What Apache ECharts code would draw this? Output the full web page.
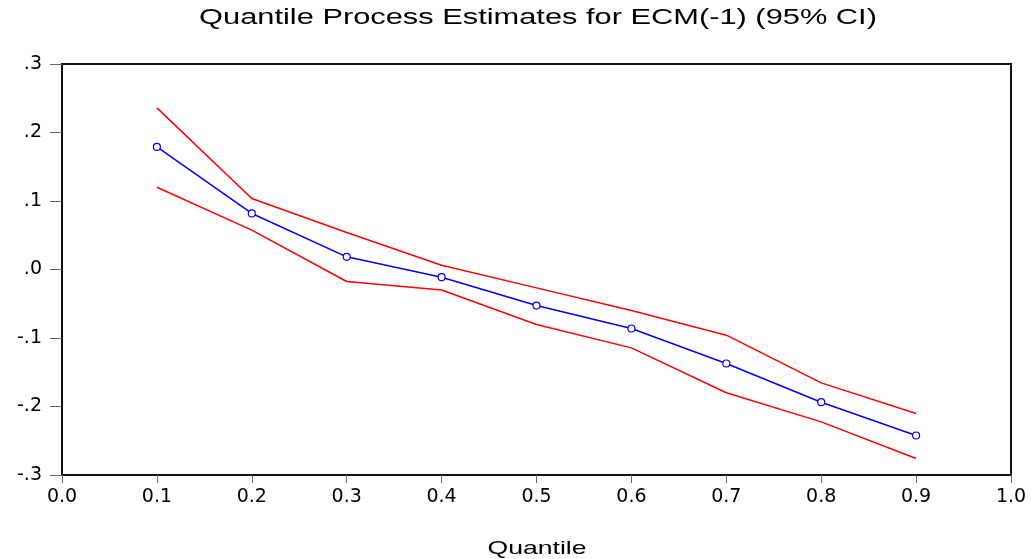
<!DOCTYPE html>
<html><head><meta charset="utf-8">
<script src="https://cdn.jsdelivr.net/npm/echarts@6/dist/echarts.min.js"></script>
<style>html,body{margin:0;padding:0;background:#fff}#c{width:1031px;height:559px}</style>
</head><body><div id="c"></div>
<script>
const quantiles = [0.1, 0.2, 0.3, 0.4, 0.5, 0.6, 0.7, 0.8, 0.9];
const estimate = [0.179, 0.0818, 0.0185, -0.0112, -0.0526, -0.0861, -0.1372, -0.1937, -0.2423];
const upperCI = [0.236, 0.1036, 0.054, 0.0063, -0.0268, -0.0599, -0.0959, -0.1655, -0.2102];
const lowerCI = [0.120, 0.0574, -0.0175, -0.030, -0.0803, -0.1144, -0.180, -0.2224, -0.2759];
const yTickLabels = {"0.3": ".3", "0.2": ".2", "0.1": ".1", "0": ".0", "-0.1": "-.1", "-0.2": "-.2", "-0.3": "-.3"};
const titleText = 'Quantile Process Estimates for ECM(-1) (95% CI)';
const xAxisTitle = 'Quantile';

const pair = (ys) => quantiles.map((q, i) => [q, ys[i]]);
const font = 'Liberation Sans, Arial, sans-serif';
const tickFont = 'DejaVu Sans, sans-serif';
const chart = echarts.init(document.getElementById('c'), null, {renderer: 'canvas'});
chart.setOption({
  animation: false,
  graphic: [
    {type: 'text', x: 538, y: 18, scaleX: 1.4, scaleY: 1,
      style: {text: titleText, fontFamily: font, fontSize: 22, fill: '#000', textAlign: 'center', textVerticalAlign: 'middle'}},
    {type: 'text', x: 537, y: 549, scaleX: 1.4, scaleY: 1,
      style: {text: xAxisTitle, fontFamily: font, fontSize: 19, fill: '#000', textAlign: 'center', textVerticalAlign: 'middle'}}
  ],
  grid: {left: 62, right: 20, top: 64, bottom: 84, show: true, borderColor: '#111', borderWidth: 2, backgroundColor: 'transparent'},
  xAxis: {type: 'value', min: 0, max: 1, interval: 0.1,
    axisLine: {show: true, onZero: false, lineStyle: {color: '#111', width: 2}},
    axisTick: {show: true, length: 8, lineStyle: {color: '#666'}},
    axisLabel: {fontFamily: tickFont, fontSize: 19, color: '#000', margin: 13, formatter: v => v.toFixed(1)},
    splitLine: {show: false}},
  yAxis: {type: 'value', min: -0.3, max: 0.3, interval: 0.1,
    axisLine: {show: true, onZero: false, lineStyle: {color: '#111', width: 2}},
    axisTick: {show: true, length: 12, lineStyle: {color: '#666'}},
    axisLabel: {fontFamily: tickFont, fontSize: 19, color: '#000', margin: 20, padding: [0, 0, 5, 0],
      formatter: v => { const k = String(Math.round(v * 10) / 10); return yTickLabels[k] !== undefined ? yTickLabels[k] : k; }},
    splitLine: {show: false}},
  series: [
    {type: 'line', data: pair(upperCI), symbol: 'none', lineStyle: {color: '#ff0000', width: 1.5}},
    {type: 'line', data: pair(lowerCI), symbol: 'none', lineStyle: {color: '#ff0000', width: 1.5}},
    {type: 'line', data: pair(estimate), symbol: 'circle', symbolSize: 7, showSymbol: true,
      itemStyle: {color: '#fff', borderColor: '#0000ff', borderWidth: 1.2},
      lineStyle: {color: '#0000ff', width: 1.5}}
  ]
});
</script></body></html>
